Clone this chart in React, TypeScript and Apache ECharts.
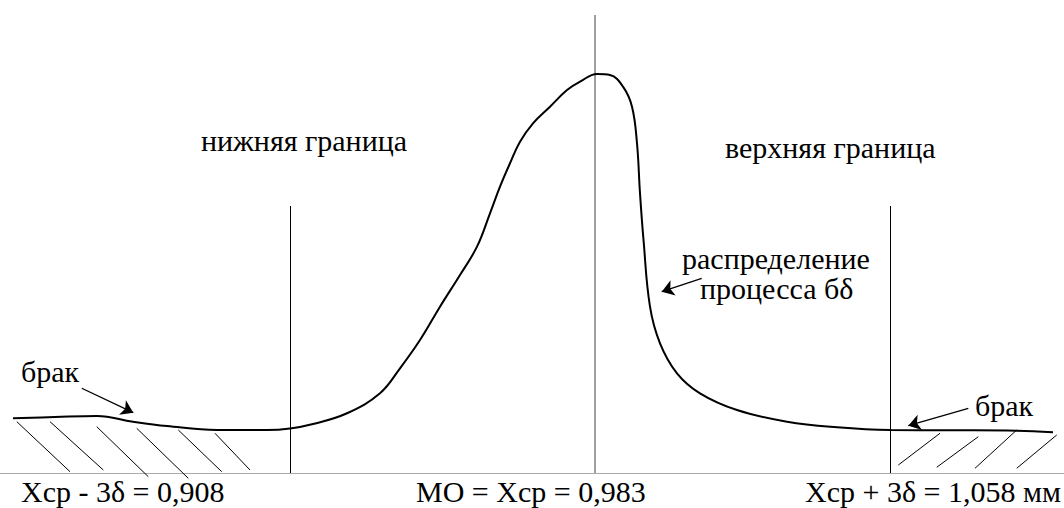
import React, { useEffect, useRef } from "react";
import * as echarts from "echarts";

// Curve of the process distribution: x in mm, relative density (peak ≈ 100)
const xMM = [
  0.83875, 0.84925, 0.85975, 0.86875, 0.87725, 0.88975, 0.90225, 0.908, 0.91375,
  0.92225, 0.9305, 0.9355, 0.9405, 0.9455, 0.9505, 0.95475, 0.958, 0.9605,
  0.963, 0.9655, 0.96875, 0.973, 0.97725, 0.9805, 0.98475, 0.988, 0.99125,
  0.9935, 0.99475, 0.9955, 0.99638, 0.998, 1.0005, 1.00475, 1.0105, 1.01975,
  1.03225, 1.04475, 1.058, 1.073, 1.08975, 1.09875,
];
const density = [
  13.68, 14.0, 14.25, 12.83, 11.75, 10.75, 10.75, 11.13, 12.25,
  14.93, 19.93, 26.18, 33.25, 41.58, 49.5, 56.58, 64.93, 71.58,
  77.43, 82.83, 87.43, 91.58, 95.75, 97.83, 99.75, 99.5, 96.58,
  91.58, 82.43, 69.93, 58.25, 41.58, 32.43, 24.93, 19.93, 15.75,
  12.83, 11.43, 10.75, 10.68, 10.58, 10.18,
];

// Limits
const lowerLimit = 0.908;
const upperLimit = 1.058;
const modePos = 0.98425;
const limitTop = 66.75;
const modeTop = 114.5;

// Hatching segments [x1, y1, x2, y2]
const hatchLeft = [
  [0.8397, 12.83, 0.853, 0.33],
  [0.848, 12.83, 0.86133, 0.75],
  [0.85968, 11.58, 0.87258, -0.93],
  [0.86968, 11.18, 0.88258, -1.33],
  [0.88008, 10.75, 0.89093, 0.33],
  [0.88925, 9.93, 0.898, 0.75],
];
const hatchRight = [
  [1.06008, 2.0, 1.0705, 9.93],
  [1.06968, 1.43, 1.08008, 9.08],
  [1.07925, 1.18, 1.08968, 10.75],
  [1.08968, 1.18, 1.09968, 9.5],
];

// Pointer arrows [fromX, fromY, toX, toY]
const arrows = [
  [0.85593, 21.18, 0.86883, 15.08],
  [1.07758, 16.18, 1.06258, 11.83],
  [1.01093, 48.68, 1.00093, 45.33],
];

// Labels (x = left edge, y = top of text box)
const labels = [
  { text: "нижняя граница", x: 201, y: 125 },
  { text: "верхняя граница", x: 725, y: 132 },
  { text: "распределение", x: 682, y: 243 },
  { text: "процесса бδ", x: 700, y: 273 },
  { text: "брак", x: 21, y: 356 },
  { text: "брак", x: 975, y: 390 },
  { text: "Хср - 3δ = 0,908", x: 21, y: 476 },
  { text: "МО = Хср = 0,983", x: 416, y: 476 },
  { text: "Хср + 3δ = 1,058 мм", x: 805, y: 476 },
];

const FONT_FAMILY = "Liberation Serif";

export default function App() {
  const ref = useRef<HTMLDivElement>(null);
  const textRef = useRef<HTMLDivElement>(null);
  useEffect(() => {
    if (!ref.current || !textRef.current) return;
    const chart = echarts.init(ref.current, undefined, { renderer: "svg" });
    const textChart = echarts.init(textRef.current, undefined, { renderer: "svg" });
    const seg = (s: number[], style: any, endSymbol = "none") => [
      { coord: [s[0], s[1]], symbol: "none" },
      { coord: [s[2], s[3]], symbol: endSymbol, lineStyle: style },
    ];
    const hatchStyle = { color: "#000", width: 1, type: "solid" };
    chart.setOption({
      animation: false,
      backgroundColor: "#fff",
      grid: { left: 0, right: 0, top: 0, bottom: 0, containLabel: false },
      xAxis: {
        type: "value",
        min: 0.8355,
        max: 1.1015,
        axisLine: { show: true, onZero: true, lineStyle: { color: "#aaaaaa", width: 1 } },
        axisTick: { show: false },
        axisLabel: { show: false },
        splitLine: { show: false },
      },
      yAxis: {
        type: "value",
        min: -8.75,
        max: 118.25,
        show: false,
        splitLine: { show: false },
      },
      series: [
        {
          type: "line",
          name: "curve",
          data: xMM.map((x, i) => [x, density[i]]),
          smooth: 0.4,
          symbol: "none",
          silent: true,
          lineStyle: { color: "#000", width: 2 },
          z: 5,
        },
        {
          type: "line",
          name: "limits",
          data: [],
          silent: true,
          markLine: {
            silent: true,
            symbol: ["none", "none"],
            label: { show: false },
            emphasis: { disabled: true },
            data: [
              seg([lowerLimit, 0, lowerLimit, limitTop], { color: "#000", width: 1, type: "solid" }),
              seg([upperLimit, 0, upperLimit, limitTop], { color: "#000", width: 1, type: "solid" }),
              seg([modePos, 0, modePos, modeTop], { color: "#808080", width: 1.5, type: "solid" }),
            ],
          },
        },
        {
          type: "line",
          name: "hatch",
          data: [],
          silent: true,
          markLine: {
            silent: true,
            symbol: ["none", "none"],
            label: { show: false },
            emphasis: { disabled: true },
            data: [...hatchLeft, ...hatchRight].map((s) => seg(s, hatchStyle)),
          },
        },
        {
          type: "line",
          name: "arrows",
          data: [],
          silent: true,
          markLine: {
            silent: true,
            symbol: ["none", "arrow"],
            symbolSize: 12,
            label: { show: false },
            emphasis: { disabled: true },
            lineStyle: { color: "#000", width: 1.3, type: "solid" },
            data: arrows.map((s) =>
              seg(s, { color: "#000", width: 1.3, type: "solid" }, "arrow")
            ),
          },
        },
      ],
    });
    textChart.setOption({
      animation: false,
      graphic: labels.map((l) => ({
        type: "text",
        x: l.x,
        y: l.y,
        style: { text: l.text, fontFamily: FONT_FAMILY, fontSize: 30, fill: "#000" },
      })),
    });
    return () => {
      chart.dispose();
      textChart.dispose();
    };
  }, []);
  return (
    <div style={{ position: "fixed", left: 0, top: 0, width: 1064, height: 508, background: "#fff" }}>
      <div ref={ref} style={{ width: 1064, height: 508 }} />
      <div
        ref={textRef}
        style={{ position: "absolute", left: 0, top: 0, width: 1064, height: 508, pointerEvents: "none" }}
      />
    </div>
  );
}
